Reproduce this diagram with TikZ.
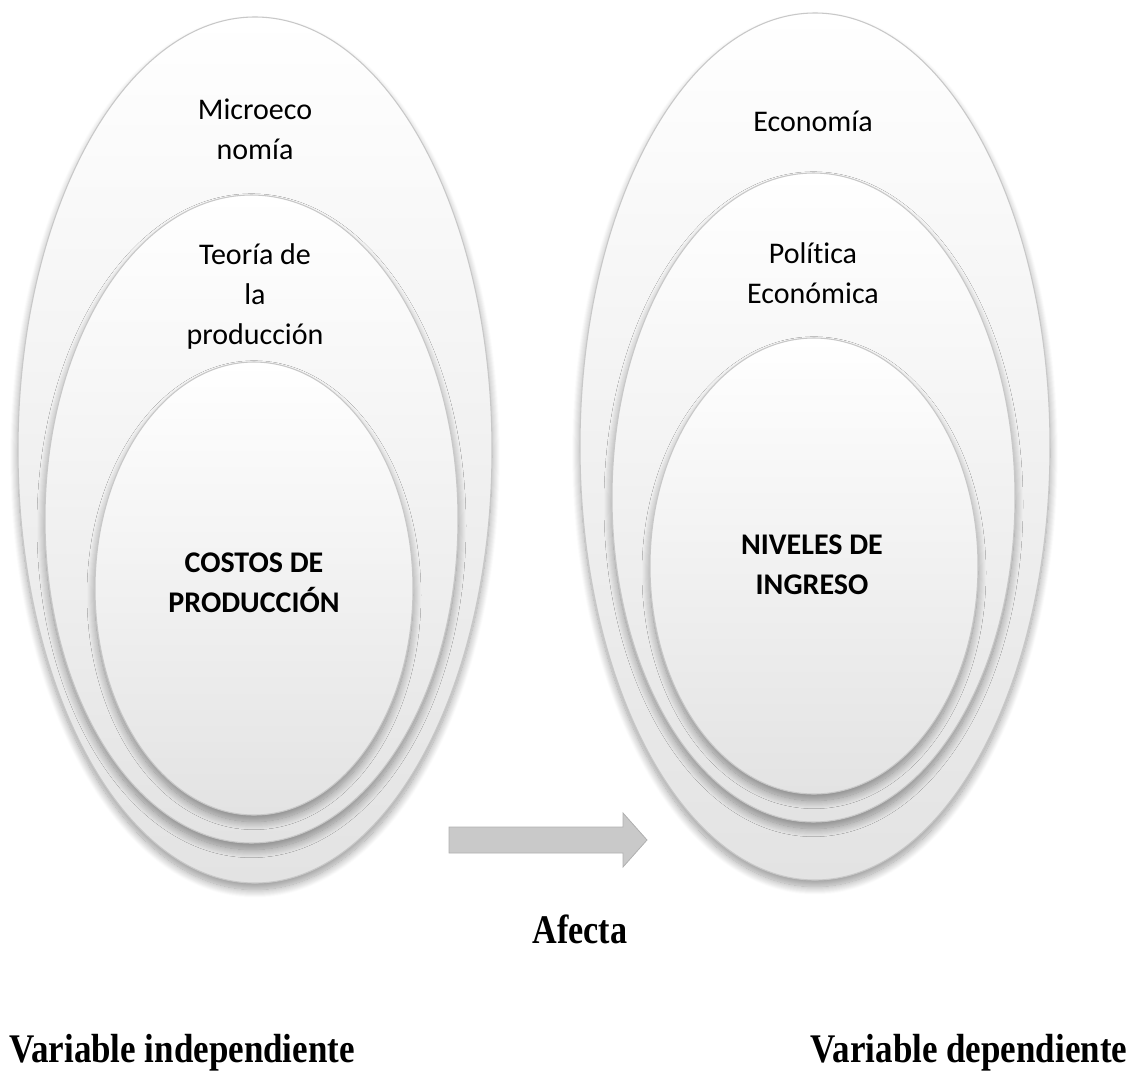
\documentclass[tikz,border=0pt]{standalone}
\usepackage{fontspec}
\usepackage{graphicx}
\setmainfont{Carlito}[Ligatures=NoCommon]
\newfontfamily\serifb{Liberation Serif}
\usetikzlibrary{shapes.geometric,shadows.blur}
\definecolor{rimgray}{HTML}{C8C8C8}
\definecolor{arrowfill}{HTML}{C9C9C9}
\definecolor{arrowline}{HTML}{B0B0B0}
\tikzset{
  ring/.style={ellipse, draw=rimgray, line width=0.8pt, inner sep=0pt,
    top color=white, middle color=white, bottom color=black!11,
    blur shadow={shadow xshift=0pt, shadow yshift=-5pt, shadow blur radius=6pt, shadow blur steps=16, shadow opacity=40}},
  lbl/.style={align=center, font=\fontsize{22.5}{30}\selectfont, inner sep=0pt},
  blbl/.style={align=center, font=\fontsize{22.5}{30}\selectfont\bfseries, inner sep=0pt},
  captxt/.style={inner sep=0pt, anchor=base, font=\serifb\bfseries\fontsize{30.5}{34}\selectfont}
}
\begin{document}
\begin{tikzpicture}[x=0.75pt,y=-0.75pt]
\useasboundingbox (0,0) rectangle (1143,1079);
% left set
\node[ring, minimum width=355.5pt, minimum height=649.5pt] (lo) at (255,450) {};
\node[ring, minimum width=309.75pt, minimum height=486pt] (lm) at (251.5,519) {};
\node[ring, minimum width=238.5pt, minimum height=339.75pt] (li) at (254,588.5) {};
% right set
\node[ring, minimum width=352.5pt, minimum height=650.25pt] (ro) at (815,446.5) {};
\node[ring, minimum width=302.25pt, minimum height=486.75pt] (rm) at (813.5,497.5) {};
\node[ring, minimum width=246pt, minimum height=342pt] (ri) at (814,566) {};
% labels
\node[lbl] (t1) at (255,129) {Microeco\\nomía};
\node[lbl] (t2) at (255,296) {Teoría de\\la\\producción};
\node[blbl] (t3) at (254,583) {COSTOS DE\\PRODUCCIÓN};
\node[lbl] (t4) at (813,121) {Economía};
\node[lbl] (t5) at (813,273) {Política\\Económica};
\node[blbl] (t6) at (812,565) {NIVELES DE\\INGRESO};
% arrow
\path[fill=arrowfill, draw=arrowline, line width=0.6pt]
  (449,827) -- (623,827) -- (623,813) -- (647,840) -- (623,867) -- (623,853) -- (449,853) -- cycle;
\coordinate (arrowtip) at (647,840);
\node[captxt] (af) at (580,943) {\scalebox{0.84}[1]{Afecta}};
\node[captxt] (vi) at (182,1062) {\scalebox{0.86}[1]{Variable independiente}};
\node[captxt] (vd) at (969,1062) {\scalebox{0.86}[1]{Variable dependiente}};
\end{tikzpicture}
\end{document}
